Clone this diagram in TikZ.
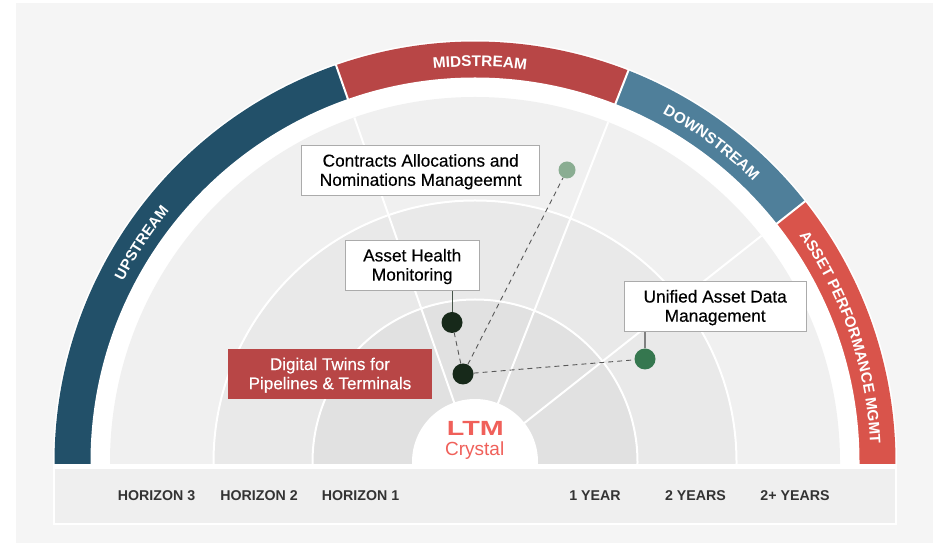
\documentclass[tikz,border=0pt]{standalone}
\usepackage{fontspec}
\setmainfont{Liberation Sans}
\newfontfamily\medfont[RawFeature={embolden=0.3}]{Liberation Sans}
\usetikzlibrary{decorations.text}
\definecolor{bgc}{HTML}{F5F5F5}
\definecolor{upc}{HTML}{225069}
\definecolor{midc}{HTML}{B84646}
\definecolor{downc}{HTML}{4F7F9A}
\definecolor{apmc}{HTML}{D9544B}
\definecolor{ringa}{HTML}{F0F0F0}
\definecolor{ringb}{HTML}{E9E9E9}
\definecolor{ringc}{HTML}{E1E1E1}
\definecolor{bandc}{HTML}{EFEFEF}
\definecolor{boxc}{HTML}{ABABAB}
\definecolor{labc}{HTML}{333333}
\definecolor{logoc}{HTML}{F0605A}
\definecolor{dotdark}{HTML}{17291A}
\definecolor{dotgreen}{HTML}{35774F}
\definecolor{dotpale}{HTML}{8AAD92}
\tikzset{
  callout/.style={draw=boxc,line width=1pt,fill=white,align=center,inner sep=0pt,font=\medfont\fontsize{17.3}{19.2}\selectfont,text=black},
  axislab/.style={font=\bfseries\fontsize{14.2}{14.2}\selectfont,text=labc,inner sep=0pt},
  dashlink/.style={draw=black!65,line width=0.9pt,dash pattern=on 5pt off 4pt},
  dotmark/.style={circle,inner sep=0pt},
  ringline/.style={draw=white,line width=2pt},
  curvelab/.style={decorate,decoration={text along path,text align=center,raise=0pt,text={#1}}}
}
\newcommand{\bandsector}[3]{\fill[#1] (475,81) -- ++(#2:420.5) arc[start angle=#2,end angle=#3,radius=420.5pt] -- cycle;}
\newcommand{\curvedword}[4]{\path[postaction={curvelab={|\color{white}\bfseries\fontsize{#3}{#3}\selectfont|#4}}] (475,81) ++(#1:395.5) arc[start angle=#1,end angle=#2,radius=395.5pt];}
\newcommand{\twolines}[2]{\raisebox{-6.3pt}[20pt][20pt]{\begin{tabular}{@{}c@{}}#1\\#2\end{tabular}}}
\begin{document}
\begin{tikzpicture}[x=1pt,y=1pt]
\useasboundingbox (0,0) rectangle (934,543);
\fill[white] (0,0) rectangle (934,543);
\fill[bgc] (16,0.3) rectangle (932.7,540);
\begin{scope}
\clip (0,79) rectangle (934,543);
\fill[white] (475,81) circle[radius=422pt];
\bandsector{upc}{180.5}{109.3}
\bandsector{midc}{109.3}{68.6}
\bandsector{downc}{68.6}{38.3}
\bandsector{apmc}{38.3}{-0.5}
\fill[white] (475,81) circle[radius=384.5pt];
\draw[ringline] (475,81) ++(109.3:384) -- ++(109.3:37);
\draw[ringline] (475,81) ++(68.6:384) -- ++(68.6:37);
\draw[ringline] (475,81) ++(38.3:384) -- ++(38.3:37);
\fill[ringa] (475,81) circle[radius=365pt];
\fill[ringb] (475,81) circle[radius=261.5pt];
\fill[ringc] (475,81) circle[radius=162.5pt];
\draw[ringline] (475,81) circle[radius=261.5pt];
\draw[ringline] (475,81) circle[radius=162.5pt];
\draw[ringline] (475,81) -- ++(109.3:365);
\draw[ringline] (475,81) -- ++(68.6:365);
\draw[ringline] (475,81) -- ++(38.3:365);
\fill[white] (475,81) circle[radius=63pt];
\end{scope}
% bottom band
\fill[white] (52.5,18) rectangle (897,79);
\fill[bandc] (55,20) rectangle (895,74);
\curvedword{168.2}{125.2}{15}{UPSTREAM}
\curvedword{110.3}{68.3}{15.4}{MIDSTREAM}
\curvedword{75}{32}{15.4}{DOWNSTREAM}
\curvedword{39.8}{-2.2}{15.1}{ASSET PERFORMANCE MGMT}
% nodes
\node[callout,minimum width=238.5pt,minimum height=49.8pt] (contracts) at (420.7,372.6) {\twolines{Contracts Allocations and}{Nominations Manageemnt}};
\node[callout,minimum width=133.7pt,minimum height=50.3pt] (health) at (412.2,277.8) {\twolines{Asset Health}{Monitoring}};
\node[callout,minimum width=181.7pt,minimum height=50pt] (unified) at (715.2,236.7) {\twolines{Unified Asset Data}{Management}};
\node[fill=midc,text=white,align=center,inner sep=0pt,minimum width=204pt,minimum height=49.7pt,font=\medfont\fontsize{17}{19.2}\selectfont] (twins) at (330,169.2) {\twolines{Digital Twins for}{Pipelines \& Terminals}};
\node[dotmark,fill=dotpale,minimum size=17pt] (dotc) at (567,373) {};
\node[dotmark,fill=dotdark,minimum size=21pt] (dota) at (452,220.5) {};
\node[dotmark,fill=dotdark,minimum size=21pt] (dotb) at (463,169) {};
\node[dotmark,fill=dotgreen,minimum size=21pt] (dotu) at (645,184) {};
\draw[dashlink] (dotb) -- (dota);
\draw[dashlink] (dotb) -- (dotc);
\draw[dashlink] (dotb) -- (dotu);
\draw[draw=dotdark!80,line width=1pt] (health.south -| dota) -- (dota);
\draw[draw=black!50,line width=2pt] (unified.south -| dotu) -- (dotu);
% logo
\node[text=logoc,inner sep=0pt,xscale=1.4,font=\bfseries\fontsize{20.5}{20.5}\selectfont] (ltm) at (475.3,114.5) {LTM};
\node[text=logoc,inner sep=0pt,font=\fontsize{19}{19}\selectfont] (crystal) at (474.7,92.5) {Crystal};
% axis labels
\node[axislab] (h3) at (156.5,47.5) {HORIZON 3};
\node[axislab] (h2) at (259,47.5) {HORIZON 2};
\node[axislab] (h1) at (360.5,47.5) {HORIZON 1};
\node[axislab] (y1) at (595,47.5) {1 YEAR};
\node[axislab] (y2) at (695.5,47.5) {2 YEARS};
\node[axislab] (y3) at (795,47.5) {2+ YEARS};
\end{tikzpicture}
\end{document}
